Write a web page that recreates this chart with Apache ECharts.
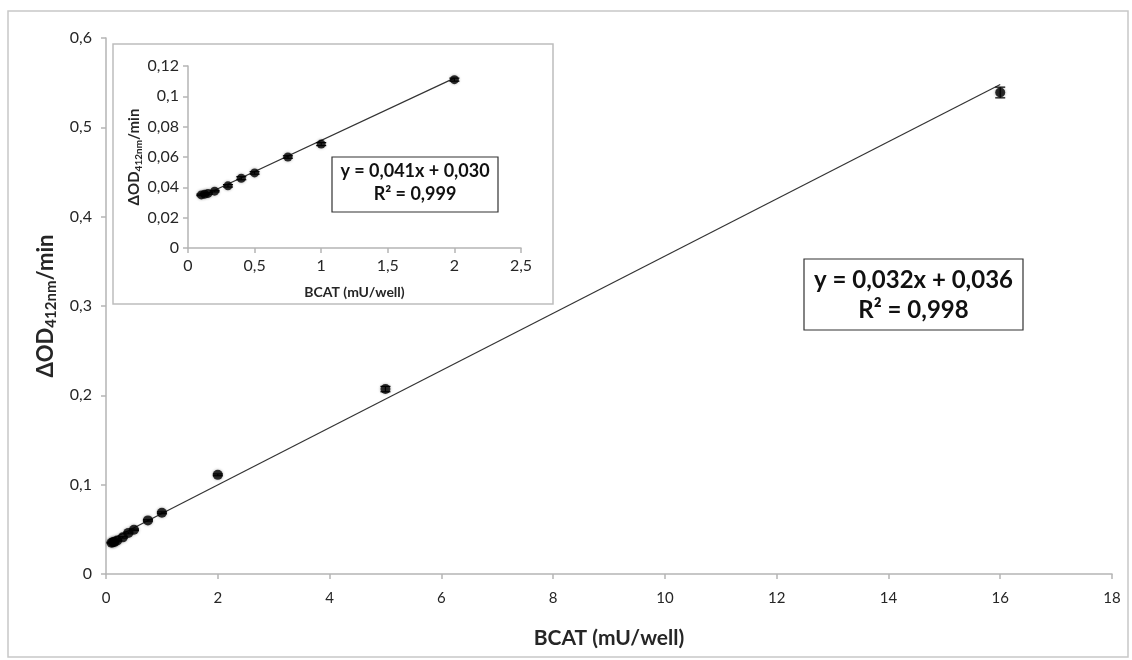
<!DOCTYPE html>
<html>
<head>
<meta charset="utf-8">
<script src="https://cdn.jsdelivr.net/npm/echarts@6/dist/echarts.min.js"></script>
<style>html,body{margin:0;padding:0;background:#fff}#c{width:1132px;height:660px}</style>
</head>
<body>
<div id="c"></div>
<script>
// ---- data ----
var bcat = [0.1, 0.125, 0.15, 0.2, 0.3, 0.4, 0.5, 0.75, 1, 2, 5, 16];
var odRate = [0.035, 0.0355, 0.036, 0.0375, 0.041, 0.046, 0.0495, 0.060, 0.0685, 0.111, 0.207, 0.539];
var odErr = [0.0005, 0.0005, 0.0005, 0.0005, 0.0008, 0.001, 0.0008, 0.0008, 0.001, 0.001, 0.003, 0.006];
var insetCount = 10; // first 10 points appear in the inset
var mainTrendX = [0.1, 16];
var mainTrendY = [0.039, 0.548];
var insetTrendX = [0.1, 2];
var insetTrendY = [0.034, 0.112];
var mainEq = ['y = 0,032x + 0,036', 'R² = 0,998'];
var insetEq = ['y = 0,041x + 0,030', 'R² = 0,999'];

var FONT = 'Lato, "Open Sans", sans-serif';
function comma(v){ return String(v).replace('.', ','); }

var mainPts = bcat.map(function(x,i){ return [x, odRate[i]]; });
var insetPts = mainPts.slice(0, insetCount);
var mainErr = bcat.map(function(x,i){ return [x, odRate[i]-odErr[i], odRate[i]+odErr[i]]; });
var insetErr = mainErr.slice(0, insetCount);

function errRender(params, api){
  var x = api.value(0), lo = api.value(1), hi = api.value(2);
  var p1 = api.coord([x, hi]), p2 = api.coord([x, lo]);
  var w = 5;
  var st = {stroke:'#000', lineWidth:1.2};
  return {type:'group', children:[
    {type:'line', shape:{x1:p1[0],y1:p1[1],x2:p2[0],y2:p2[1]}, style:st},
    {type:'line', shape:{x1:p1[0]-w,y1:p1[1],x2:p1[0]+w,y2:p1[1]}, style:st},
    {type:'line', shape:{x1:p2[0]-w,y1:p2[1],x2:p2[0]+w,y2:p2[1]}, style:st}
  ]};
}

var axisLine = {show:true, lineStyle:{color:'#b5b5b5', width:1.5}};
var axisTick = {show:true, inside:false, length:5, lineStyle:{color:'#b5b5b5', width:1.5}};
var TXT = '#262626';

var chart = echarts.init(document.getElementById('c'), null, {renderer:'canvas'});
chart.setOption({
  animation:false,
  backgroundColor:'#fff',
  grid:[
    {left:106, top:38, width:1006, height:536},
    {left:188, top:66, width:333, height:182, z:10}
  ],
  xAxis:[
    {gridIndex:0, type:'value', min:0, max:18, interval:2,
     axisLine:axisLine, axisTick:axisTick, splitLine:{show:false},
     axisLabel:{color:TXT, fontFamily:FONT, fontSize:15, margin:17, formatter:comma},
     name:'BCAT (mU/well)', nameLocation:'middle', nameGap:54,
     nameTextStyle:{fontFamily:FONT, fontWeight:'bold', fontSize:21, color:TXT}},
    {gridIndex:1, type:'value', min:0, max:2.5, interval:0.5,
     axisLine:axisLine, axisTick:axisTick, splitLine:{show:false}, z:10,
     axisLabel:{color:TXT, fontFamily:FONT, fontSize:16, margin:10, formatter:comma},
     name:'BCAT (mU/well)', nameLocation:'middle', nameGap:37,
     nameTextStyle:{fontFamily:FONT, fontWeight:'bold', fontSize:14, color:TXT}}
  ],
  yAxis:[
    {gridIndex:0, type:'value', min:0, max:0.6, interval:0.1,
     axisLine:axisLine, axisTick:axisTick, splitLine:{show:false},
     axisLabel:{color:TXT, fontFamily:FONT, fontSize:16, margin:14, formatter:comma},
     name:'{a|ΔOD}{s|412nm}{a|/min}', nameLocation:'middle', nameGap:40,
     nameTextStyle:{rich:{
       a:{fontFamily:FONT, fontWeight:'bold', fontSize:22, color:TXT},
       s:{fontFamily:FONT, fontWeight:'bold', fontSize:15, color:TXT, padding:[12,0,0,0]}
     }}},
    {gridIndex:1, type:'value', min:0, max:0.12, interval:0.02,
     axisLine:axisLine, axisTick:axisTick, splitLine:{show:false}, z:10,
     axisLabel:{color:TXT, fontFamily:FONT, fontSize:16, margin:9, formatter:comma},
     name:'{a|ΔOD}{s|412nm}{a|/min}', nameLocation:'middle', nameGap:40,
     nameTextStyle:{rich:{
       a:{fontFamily:FONT, fontWeight:'bold', fontSize:15, color:TXT},
       s:{fontFamily:FONT, fontWeight:'bold', fontSize:10, color:TXT, padding:[8,0,0,0]}
     }}}
  ],
  graphic:[
    {type:'rect', z:-10, silent:true, shape:{x:8, y:11, width:1120, height:646},
     style:{fill:'#fff', stroke:'#c8c8c8', lineWidth:1.5}},
    {type:'rect', z:5, silent:true, shape:{x:113, y:44, width:440, height:260},
     style:{fill:'#fff', stroke:'#bdbdbd', lineWidth:1.5}},
    {type:'rect', z:100, silent:true, shape:{x:804, y:259, width:219, height:71},
     style:{fill:'#fff', stroke:'#333', lineWidth:1.2}},
    {type:'text', z:101, silent:true, x:913.5, y:268,
     style:{text:mainEq[0], fontFamily:FONT, fontWeight:'bold', fontSize:24, fill:'#111', align:'center', verticalAlign:'top'}},
    {type:'text', z:101, silent:true, x:913.5, y:298,
     style:{text:mainEq[1], fontFamily:FONT, fontWeight:'bold', fontSize:24, fill:'#111', align:'center', verticalAlign:'top'}},
    {type:'rect', z:100, silent:true, shape:{x:332, y:157, width:166, height:55},
     style:{fill:'#fff', stroke:'#333', lineWidth:1.2}},
    {type:'text', z:101, silent:true, x:415, y:162,
     style:{text:insetEq[0], fontFamily:FONT, fontWeight:'bold', fontSize:18, fill:'#111', align:'center', verticalAlign:'top'}},
    {type:'text', z:101, silent:true, x:415, y:185,
     style:{text:insetEq[1], fontFamily:FONT, fontWeight:'bold', fontSize:18, fill:'#111', align:'center', verticalAlign:'top'}}
  ],
  series:[
    {type:'line', xAxisIndex:0, yAxisIndex:0, data:mainTrendX.map(function(x,i){return [x, mainTrendY[i]];}),
     symbol:'none', lineStyle:{color:'#333', width:1.2}, z:2},
    {type:'custom', xAxisIndex:0, yAxisIndex:0, data:mainErr, renderItem:errRender, z:3},
    {type:'scatter', xAxisIndex:0, yAxisIndex:0, data:mainPts, symbol:'circle', symbolSize:10,
     itemStyle:{color:'#000', shadowBlur:3, shadowColor:'rgba(0,0,0,0.4)'}, z:4},
    {type:'line', xAxisIndex:1, yAxisIndex:1, data:insetTrendX.map(function(x,i){return [x, insetTrendY[i]];}),
     symbol:'none', lineStyle:{color:'#333', width:1.2}, z:12},
    {type:'custom', xAxisIndex:1, yAxisIndex:1, data:insetErr, renderItem:errRender, z:13},
    {type:'scatter', xAxisIndex:1, yAxisIndex:1, data:insetPts, symbol:'circle', symbolSize:9,
     itemStyle:{color:'#000', shadowBlur:3, shadowColor:'rgba(0,0,0,0.4)'}, z:14}
  ]
});
</script>
</body>
</html>
